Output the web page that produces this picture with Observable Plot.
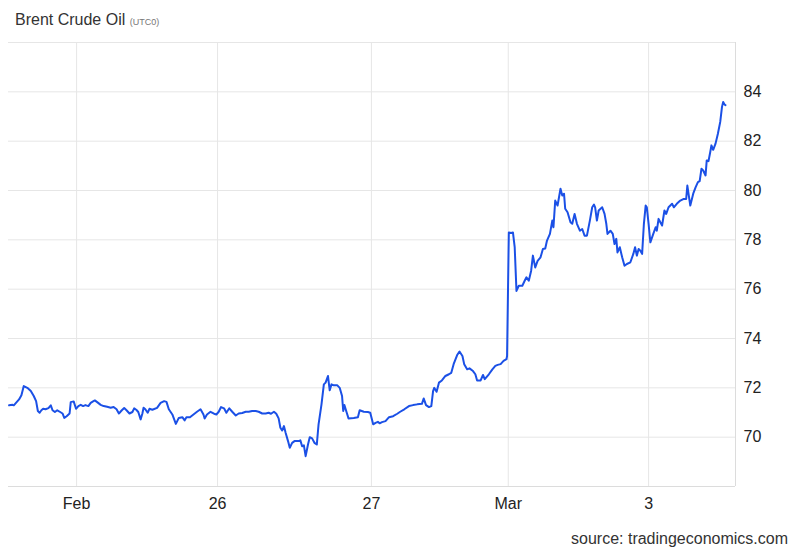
<!DOCTYPE html>
<html><head><meta charset="utf-8">
<script src="https://cdn.jsdelivr.net/npm/d3@7"></script>
<script src="https://cdn.jsdelivr.net/npm/@observablehq/plot@0.6"></script>
<style>
body{margin:0;background:#fff;font-family:"Liberation Sans",Arial,Helvetica,sans-serif;}
#wrap{position:relative;width:800px;height:554px;overflow:hidden;}
#title{position:absolute;left:15px;top:11px;font-size:16px;color:#333;white-space:nowrap;}
#title small{font-size:9px;color:#777;}
#chart{position:absolute;left:0;top:36px;}
#caption{position:absolute;right:12px;top:530px;font-size:16px;color:#333;}
</style></head>
<body><div id="wrap"><div id="title">Brent Crude Oil <small>(UTC0)</small></div><div id="chart"></div><div id="caption">source: tradingeconomics.com</div></div>
<script>
// hours relative to the "Feb" (25 Feb) tick, trading gaps removed
const hours = [-11.5,-10.9,-10.7,-10.4,-9.8,-9.4,-9.0,-8.4,-7.8,-7.3,-6.9,-6.6,-6.3,-6.0,-5.7,-5.3,-4.8,-4.4,-4.1,-3.7,-3.3,-2.8,-2.4,-2.1,-1.7,-1.2,-1.0,-0.5,-0.1,0.3,0.7,1.1,1.5,2.0,2.4,2.8,3.1,3.5,4.1,4.6,5.2,5.8,6.3,6.8,7.2,7.7,8.1,8.5,9.0,9.5,9.8,10.2,10.5,10.9,11.2,11.4,11.7,12.1,12.4,12.9,
13.7,14.3,14.9,15.3,15.7,16.3,16.9,17.4,18.0,18.4,18.7,19.3,19.9,20.5,21.1,21.6,21.8,22.2,22.8,23.4,23.8,24.2,24.6,25.1,25.5,26.0,26.5,27.1,27.6,28.2,28.8,29.3,29.9,30.5,31.0,31.6,32.2,32.7,33.1,33.6,34.0,34.4,34.7,35.0,35.3,35.6,36.0,36.3,36.7,37.1,
37.8,38.1,38.4,38.7,39.0,39.4,39.7,40.1,40.5,40.9,41.2,41.7,42.1,42.4,42.8,43.1,43.4,43.8,44.4,44.8,45.2,45.4,45.6,46.0,46.3,47.2,47.9,48.2,48.9,49.6,50.0,50.5,50.9,51.3,51.6,52.0,52.6,53.2,53.9,54.6,55.1,55.8,56.6,57.3,58.0,58.8,59.1,59.5,60.0,60.4,60.7,60.9,61.3,61.7,62.2,62.8,63.4,63.8,64.2,64.8,65.2,65.7,66.0,66.5,66.9,67.5,67.9,68.2,68.8,69.2,69.5,70.2,70.8,71.3,71.7,72.2,72.7,73.2,73.3,
73.6,74.0,74.3,74.6,74.9,75.3,75.9,76.3,76.6,77.0,77.4,77.7,78.1,78.5,79.0,79.4,79.8,80.1,80.6,81.0,81.2,81.5,81.9,82.4,82.7,83.0,83.2,83.6,84.1,84.4,84.8,85.2,85.7,86.1,86.5,86.9,87.4,87.8,88.1,88.3,88.6,88.9,89.5,89.9,90.2,90.4,90.9,91.3,91.6,91.9,92.1,92.5,92.9,93.3,93.7,94.3,94.8,95.1,95.4,95.7,96.0,96.3,96.6,96.9,97.1,97.4,97.7,98.2,98.6,98.8,99.1,99.4,99.7,100.1,100.4,100.8,101.4,101.7,102.2,102.8,103.4,103.8,104.0,104.2,104.5,105.0,105.4,105.8,106.1,106.4,106.7,107.1,107.3,107.6,107.9,108.1,108.4,108.8,109.2,109.6,109.9,110.1,110.3,110.5];
const prices = [71.29,71.31,71.29,71.37,71.53,71.70,72.07,72.00,71.87,71.67,71.46,71.06,70.99,71.09,71.15,71.13,71.18,71.29,71.09,71.02,71.09,71.02,70.96,70.78,70.85,70.96,71.42,71.45,71.15,71.26,71.31,71.26,71.30,71.26,71.39,71.45,71.49,71.42,71.31,71.26,71.23,71.19,71.22,71.13,70.96,71.09,71.18,71.09,70.96,71.02,71.17,71.10,71.02,70.72,70.96,71.19,71.13,70.99,71.15,71.11,
71.19,71.39,71.46,71.43,71.13,70.92,70.54,70.78,70.81,70.68,70.81,70.81,70.92,71.03,71.13,70.92,70.76,70.92,71.03,70.95,70.92,71.03,71.22,71.17,70.99,71.17,71.03,70.88,70.96,70.98,71.03,71.03,71.06,71.06,71.03,70.96,70.96,70.99,70.95,71.03,70.95,70.76,70.38,70.27,70.45,70.17,69.84,69.57,69.77,69.84,
69.84,69.87,69.63,69.67,69.23,69.70,70.00,69.95,69.77,69.70,70.52,71.33,72.14,72.21,72.48,71.90,72.14,72.10,72.10,72.00,71.67,71.06,71.30,70.99,70.76,70.78,70.81,71.09,71.03,71.02,70.99,70.52,70.58,70.62,70.56,70.61,70.65,70.81,70.85,70.95,71.03,71.13,71.26,71.30,71.33,71.35,71.57,71.30,71.22,71.26,71.87,72.00,71.84,72.21,72.30,72.48,72.55,72.61,72.96,73.33,73.47,73.29,72.96,72.75,72.79,72.68,72.55,72.30,72.30,72.52,72.35,72.55,72.75,72.89,72.93,72.96,73.09,73.16,73.29,
78.30,78.28,78.30,77.70,75.93,76.14,76.14,76.34,76.48,76.34,76.75,77.36,76.88,77.15,77.29,77.63,77.65,77.97,78.24,78.78,78.51,79.59,79.39,80.07,79.80,79.87,79.26,79.12,78.71,78.65,79.05,78.65,78.37,78.44,78.17,78.17,78.78,79.32,79.43,79.32,78.78,79.19,79.32,79.05,78.65,78.24,78.37,78.24,77.83,78.04,77.49,77.70,77.29,76.95,77.02,77.09,77.43,77.70,77.36,77.63,77.56,77.43,78.65,79.39,79.32,78.65,77.90,78.24,78.51,78.37,78.85,78.71,78.58,79.19,79.05,79.32,79.46,79.32,79.46,79.59,79.66,79.66,80.20,79.87,79.39,79.87,80.13,80.34,80.38,80.88,80.81,80.61,81.22,81.19,81.56,81.83,81.65,81.90,82.30,82.78,83.39,83.59,83.50,83.46];

const xDomain = [-11.6, 112.2];
const yDomain = [68, 86];
const tickHours = [0, 24, 50.2, 73.5, 97.4];
const tickLabels = ["Feb", "26", "27", "Mar", "3"];
const yTicks = [70, 72, 74, 76, 78, 80, 82, 84];
const yGrid = [70, 72, 74, 76, 78, 80, 82, 84, 86];

const data = hours.map((h, i) => ({h, p: prices[i]}));
const labelOf = new Map(tickHours.map((t, i) => [t, tickLabels[i]]));

const chart = Plot.plot({
  width: 800,
  height: 480,
  marginTop: 6,
  marginLeft: 8,
  marginRight: 65,
  marginBottom: 30,
  style: {fontFamily: '"Liberation Sans", Arial, Helvetica, sans-serif', fontSize: "16px", color: "#222", background: "transparent", overflow: "visible"},
  x: {type: "linear", domain: xDomain, label: null},
  y: {domain: yDomain, label: null},
  marks: [
    Plot.gridX(tickHours, {stroke: "#e6e6e6", strokeOpacity: 1}),
    Plot.gridY(yGrid, {stroke: "#e6e6e6", strokeOpacity: 1}),
    Plot.ruleY([68], {stroke: "#dcdcdc"}),
    Plot.ruleX([xDomain[1]], {stroke: "#dcdcdc"}),
    Plot.axisX(tickHours, {tickSize: 0, tickPadding: 11, tickFormat: d => labelOf.get(d), fill: "#222", label: null}),
    Plot.axisY(yTicks, {anchor: "right", tickSize: 0, tickPadding: 8, fill: "#222", label: null}),
    Plot.line(data, {x: "h", y: "p", stroke: "#1b50e6", strokeWidth: 2, strokeLinejoin: "round", strokeLinecap: "round"})
  ]
});
document.getElementById("chart").appendChild(chart);
</script>
</body></html>
